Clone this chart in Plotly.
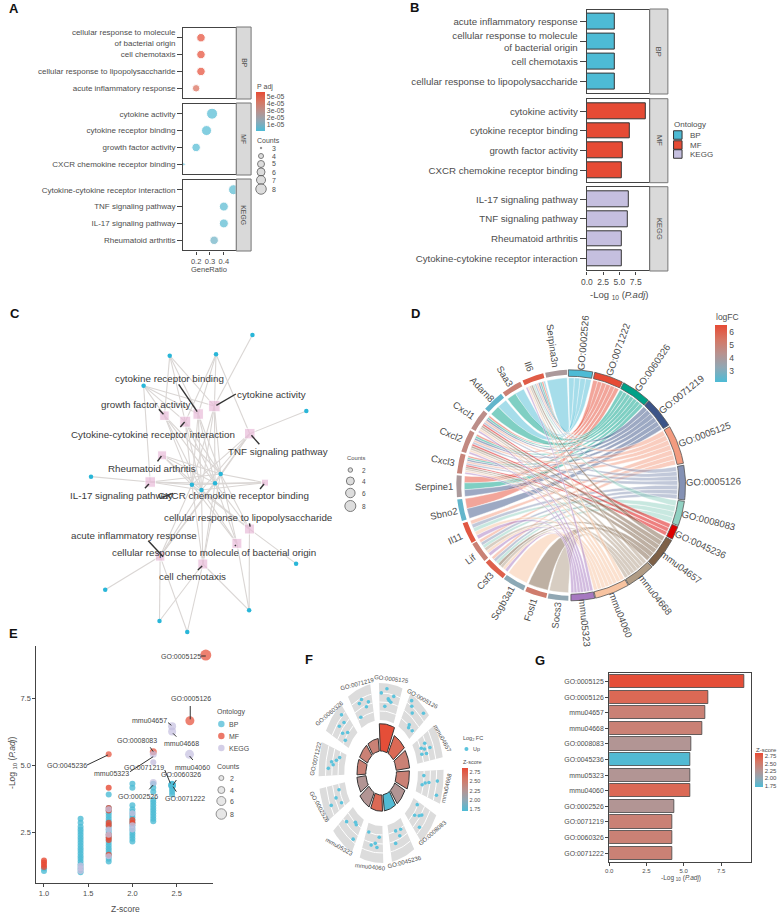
import numpy as np
import plotly.graph_objects as go
from plotly.colors import sample_colorscale

W, H = 782, 916
FONT = "Liberation Sans"
TXT = "#4d4d4d"
BLUE, RED, LILAC = "#4DBBD5", "#E64B35", "#C5BFDF"
GRAD = [[0, BLUE], [0.25, "#8FA8B5"], [0.5, "#B8928F"], [0.75, "#D67663"], [1, RED]]

# --- panel A / B
a_bp = ["acute inflammatory response", "cellular response to lipopolysaccharide", "cell chemotaxis",
        "cellular response to molecule<br>of bacterial origin"]
a_bp_ratio = [0.20, 0.235, 0.235, 0.235]
a_bp_count = [4, 5, 5, 5]
a_bp_padj = [4.7e-5, 5.7e-5, 5.7e-5, 5.7e-5]
a_mf = ["CXCR chemokine receptor binding", "growth factor activity", "cytokine receptor binding", "cytokine activity"]
a_mf_ratio = [0.11, 0.20, 0.275, 0.315]
a_mf_count = [3, 5, 7, 8]
a_mf_padj = [2e-6, 2e-6, 2e-6, 2e-6]
a_kegg = ["Rheumatoid arthritis", "IL-17 signaling pathway", "TNF signaling pathway",
          "Cytokine-cytokine receptor interaction"]
a_kegg_ratio = [0.33, 0.40, 0.40, 0.47]
a_kegg_count = [5, 6, 6, 7]
a_kegg_padj = [8e-6, 3e-6, 3e-6, 3e-6]

b_bp = ["cellular response to lipopolysaccharide", "cell chemotaxis",
        "cellular response to molecule<br>of bacterial origin", "acute inflammatory response"]
b_bp_val = [4.25, 4.25, 4.25, 4.3]
b_mf = ["CXCR chemokine receptor binding", "growth factor activity", "cytokine receptor binding", "cytokine activity"]
b_mf_val = [5.35, 5.45, 6.65, 9.1]
b_kegg = ["Cytokine-cytokine receptor interaction", "Rheumatoid arthritis", "TNF signaling pathway",
          "IL-17 signaling pathway"]
b_kegg_val = [5.35, 5.4, 6.25, 6.45]

# --- panel C, node layout in crop units
term_names = ["CA", "CRB", "CCI", "GFA", "TNF", "RA", "IL17", "CXCR", "LPS", "MOL", "ACU", "CHE"]
term_x = [630, 581, 542, 479, 737, 472, 436, 783, 736, 698, 466, 595]
term_y = [318, 342, 365, 347, 401, 466, 546, 548, 687, 730, 769, 792]
term_size = [11.5, 10.5, 11, 9.5, 10.5, 9, 10.5, 7, 10, 10, 9.5, 10]
gene_x = [745, 495, 635, 416, 908, 257, 649, 562, 591, 632, 877, 300, 735, 464, 548]
gene_y = [105, 167, 163, 257, 333, 530, 522, 554, 570, 550, 791, 869, 931, 963, 996]
gene_terms = [
    ["CA"], ["CA", "CRB", "CCI", "GFA"], ["CA", "CRB", "CCI", "TNF"], ["CA", "CRB", "CCI", "GFA", "IL17"],
    ["TNF"], ["IL17"],
    term_names, term_names, term_names, term_names,
    ["LPS"], ["ACU"], ["LPS", "MOL", "CHE"], ["ACU", "CHE"], ["ACU", "CHE"],
]
c_labels = ["cytokine receptor binding", "cytokine activity", "growth factor activity",
            "Cytokine-cytokine receptor interaction", "TNF signaling pathway", "Rheumatoid arthritis",
            "IL-17 signaling pathway", "CXCR chemokine receptor binding", "cellular response to lipopolysaccharide",
            "acute inflammatory response", "cellular response to molecule of bacterial origin", "cell chemotaxis"]
c_label_x = [495, 803, 421, 445, 822, 440, 350, 687, 733, 387, 629, 563]
c_label_y = [236, 283, 312, 402, 454, 504, 585, 587, 651, 706, 756, 830]
c_seg = [(522, 253, 578, 335), (695, 282, 636, 316), (462, 328, 476, 343), (540, 366, 527, 381),
         (742, 406, 766, 433), (470, 468, 458, 484), (432, 552, 420, 565), (780, 552, 768, 567),
         (736, 670, 738, 680), (430, 722, 475, 770), (695, 735, 692, 738), (593, 798, 580, 810),
         (505, 580, 470, 592)]

# --- panel D, sectors in degrees clockwise from the top
go_terms = ["GO:0002526", "GO:0071222", "GO:0060326", "GO:0071219", "GO:0005125", "GO:0005126", "GO:0008083",
            "GO:0045236", "mmu04657", "mmu04668", "mmu04060", "mmu05323"]
go_start = [-1.3, 12, 27.4, 43, 59.5, 80, 98, 111, 118.5, 135, 150, 168]
go_end = [11, 26.7, 42.5, 58.6, 79, 97.3, 110.4, 117.8, 134.4, 149.6, 167.6, 180]
go_color = ["#4DBBD5", "#E64B35", "#00A087", "#3C5488", "#F39B7F", "#8491B4", "#91D1C2", "#DC0000",
            "#7E6148", "#B09C85", "#F7C3A0", "#A678C0"]
d_genes = ["Socs3", "Fosl1", "Scgb3a1", "Csf3", "Lif", "Il11", "Sbno2", "Serpine1", "Cxcl3", "Cxcl2", "Cxcl1",
           "Adam8", "Saa3", "Il6", "Serpina3n"]
gene_start = [181.3, 192.5, 204.5, 216.5, 229, 240, 252, 264, 276, 287, 299.5, 311.5, 323.5, 335, 347]
gene_end = [191.7, 203.5, 215.8, 228, 239.4, 250.8, 262.9, 275, 286, 298.4, 310.4, 322.4, 333.7, 346, 358]
gene_logfc = [3.3, 5.2, 3.2, 6.0, 5.0, 6.2, 2.5, 4.0, 4.9, 4.7, 4.5, 2.5, 5.0, 6.1, 4.0]
chemo = ["GO:0071222", "GO:0060326", "GO:0071219", "GO:0005125", "GO:0005126", "GO:0045236",
         "mmu04657", "mmu04668", "mmu04060", "mmu05323"]
growth = ["GO:0005125", "GO:0005126", "GO:0008083", "mmu04060", "mmu05323"]
d_links = {
    "Socs3": ["mmu04668"], "Fosl1": ["mmu04657"], "Scgb3a1": ["mmu04060"],
    "Csf3": growth + ["mmu04657", "mmu04668"], "Lif": growth + ["mmu04668"], "Il11": growth,
    "Sbno2": ["GO:0071222", "GO:0071219"], "Serpine1": ["GO:0071222", "GO:0060326", "GO:0071219"],
    "Cxcl3": chemo, "Cxcl2": chemo, "Cxcl1": chemo,
    "Adam8": ["GO:0002526", "GO:0060326"], "Saa3": ["GO:0002526", "GO:0060326"],
    "Il6": ["GO:0002526", "GO:0071222", "GO:0060326", "GO:0071219", "GO:0005125", "GO:0005126", "GO:0008083",
            "mmu04657", "mmu04668", "mmu04060", "mmu05323"],
    "Serpina3n": ["GO:0002526"],
}

# --- panel E, bulk of the points by z-score column
e_bp_col = {
    1.0: [1.05, 1.15],
    1.414: [1.0, 1.1, 1.2, 1.3, 1.4, 1.5, 1.6, 1.7, 1.8, 1.9, 2.0, 2.1, 2.2, 2.3, 2.4, 2.5, 2.6, 2.7, 2.85, 3.0],
    1.732: [1.4, 1.5, 1.6, 1.7, 1.8, 1.9, 2.0, 2.1, 2.2, 2.3, 2.4, 2.5, 2.6, 2.7, 2.8, 2.9, 3.0, 3.1, 3.2, 3.3, 3.4, 3.9],
    2.0: [2.15, 2.25, 2.35, 2.45, 2.55, 2.65, 2.75, 2.85, 2.95, 3.05, 3.15, 3.25, 3.35, 3.5, 4.15, 4.3],
    2.236: [2.9, 3.0, 3.1, 3.2, 3.3, 3.4, 3.5, 3.6, 3.7, 4.0, 4.15, 4.3],
    2.449: [3.9, 4.0, 4.1, 4.2, 4.25, 4.3],
}
e_mf_col = {1.0: [1.2, 1.28, 1.36, 1.44], 1.732: [1.65, 2.2, 2.3, 2.4, 2.75, 2.85, 3.3, 3.4, 4.15], 2.0: [2.85, 2.95]}
e_kegg_col = {1.414: [1.05, 1.15, 1.25], 1.732: [1.6, 2.4, 2.6, 3.35], 2.0: [2.6, 2.75, 3.2], 2.236: [5.1]}
e_terms = ["GO:0005125", "GO:0005126", "mmu04657", "mmu04668", "mmu04060", "GO:0008083", "mmu05323", "GO:0045236",
           "GO:0071219", "GO:0060326", "GO:0071222", "GO:0002526"]
e_term_z = [2.83, 2.65, 2.449, 2.449, 2.646, 2.236, 2.236, 1.732, 2.449, 2.449, 2.449, 2.236]
e_term_y = [9.1, 6.65, 6.45, 6.25, 5.4, 5.5, 5.4, 5.4, 4.25, 4.25, 4.25, 4.35]
e_term_ont = ["MF", "MF", "KEGG", "KEGG", "KEGG", "MF", "KEGG", "MF", "BP", "BP", "BP", "KEGG"]
e_term_size = [11, 9, 8, 8, 9, 7, 7, 6, 7.5, 7.5, 7.5, 7]
e_label_x = [529, 558, 435, 530, 565, 395, 318, 183, 418, 530, 542, 398]
e_label_y = [110, 236, 300, 370, 443, 362, 460, 435, 442, 462, 535, 530]
e_seg = [(590, 108, 604, 108), (557, 258, 557, 298), (490, 308, 500, 316), (505, 340, 515, 350), (436, 382, 445, 395),
         (555, 408, 565, 420), (375, 455, 445, 410), (245, 435, 308, 405), (480, 450, 497, 490), (515, 480, 505, 495),
         (505, 500, 515, 515), (445, 495, 433, 508)]

# --- panel F / G
f_terms = ["GO:0005125", "GO:0005126", "mmu04657", "mmu04668", "GO:0008083", "GO:0045236", "mmu04060", "mmu05323",
           "GO:0002526", "GO:0071222", "GO:0060326", "GO:0071219"]
f_padj = [9.1, 6.65, 6.45, 6.25, 5.5, 5.4, 5.4, 5.4, 4.35, 4.25, 4.25, 4.25]
f_z = [2.83, 2.65, 2.45, 2.45, 2.24, 1.73, 2.65, 2.24, 2.24, 2.45, 2.45, 2.45]
f_dot_frac = [[0.1, 0.35, 0.45, 0.6, 0.7, 0.3, 0.5], [0.15, 0.25, 0.4, 0.55, 0.6, 0.85, 0.8], [0.3, 0.4, 0.5, 0.55, 0.65, 0.7],
              [0.2, 0.35, 0.45, 0.5, 0.6, 0.8], [0.15, 0.35, 0.45, 0.6, 0.75], [0.25, 0.4, 0.55, 0.7],
              [0.2, 0.3, 0.4, 0.6, 0.85], [0.15, 0.3, 0.4, 0.8], [0.2, 0.35, 0.5, 0.75], [0.25, 0.4, 0.5, 0.6, 0.75],
              [0.2, 0.35, 0.45, 0.55, 0.7, 0.8], [0.2, 0.35, 0.5, 0.65, 0.8]]
f_dot_logfc = [[5.8, 6.5, 5.0, 4.6, 5.6, 3.8, 4.8], [6.5, 5.8, 5.0, 3.2, 2.8, 3.0, 6.6], [4.2, 3.2, 3.8, 5.0, 3.0, 4.0],
               [3.0, 6.0, 4.2, 3.4, 2.8, 6.2], [2.9, 4.6, 4.2, 3.4, 5.4], [3.2, 4.0, 3.0, 4.8],
               [3.4, 5.0, 4.4, 4.8, 3.0], [5.4, 3.2, 3.0, 4.2], [3.4, 5.6, 4.2, 3.2], [5.2, 4.2, 4.6, 3.6, 3.0],
               [2.9, 4.0, 5.2, 3.2, 4.8, 6.0], [3.2, 5.2, 5.6, 4.2, 4.8]]

g_terms = ["GO:0071222", "GO:0060326", "GO:0071219", "GO:0002526", "mmu04060", "mmu05323", "GO:0045236", "GO:0008083",
           "mmu04668", "mmu04657", "GO:0005126", "GO:0005125"]
g_val = [4.25, 4.25, 4.25, 4.35, 5.4, 5.4, 5.4, 5.5, 6.25, 6.45, 6.65, 9.08]
g_z = [2.45, 2.45, 2.45, 2.24, 2.65, 2.24, 1.73, 2.24, 2.45, 2.45, 2.65, 2.83]

panel_tags = ["A", "B", "C", "D", "E", "F", "G"]
tag_x = [8, 412, 9, 413, 8, 305, 538]
tag_y = [8, 7, 313, 313, 633, 659, 660]


def dom_x(a, b):
    return [a / W, b / W]


def dom_y(top, bottom):
    return [1 - bottom / H, 1 - top / H]


def tick_font(size):
    return dict(family=FONT, size=size, color=TXT)


fig = go.Figure()
layout = {}
annotations = []
shapes = []


def set_axes(n, xdom, ydom, xr, yr, **kw):
    s = "" if n == 1 else str(n)
    x_opts = dict(domain=xdom, range=xr, anchor=f"y{s}", showgrid=False, zeroline=False, visible=False)
    y_opts = dict(domain=ydom, range=yr, anchor=f"x{s}", showgrid=False, zeroline=False, visible=False)
    x_opts.update(kw.get("x", {}))
    y_opts.update(kw.get("y", {}))
    layout[f"xaxis{s}"] = x_opts
    layout[f"yaxis{s}"] = y_opts
    return f"x{s}", f"y{s}"


def note(text, x, y, xref="paper", yref="paper", size=8, color=TXT, family=FONT, angle=0, xanchor="center"):
    if xref == "paper":
        x, y = x / W, 1 - y / H
    annotations.append(dict(text=text, x=x, y=y, xref=xref, yref=yref, showarrow=False, textangle=angle,
                            xanchor=xanchor, yanchor="middle", borderpad=0,
                            font=dict(family=family, size=size, color=color)))


def frame_opts(visible_x, tick_size, tickvals, ticktext, cats, y_size, y_tick):
    line = dict(showline=True, mirror=True, linecolor="#444444", linewidth=1.2, visible=True)
    x = dict(line, ticks="outside" if visible_x else "", ticklen=3, tickcolor="#444444", showticklabels=visible_x,
             tickvals=tickvals if visible_x else [], ticktext=ticktext if visible_x else [],
             tickfont=tick_font(tick_size))
    y = dict(line, type="category", categoryorder="array", categoryarray=cats, ticks="outside", ticklen=y_tick,
             tickcolor="#444444", tickfont=tick_font(y_size))
    return dict(x=x, y=y)


def strip(x0, x1, top, bottom, text, size):
    shapes.append(dict(type="rect", xref="paper", yref="paper", x0=x0 / W, x1=x1 / W, y0=1 - bottom / H, y1=1 - top / H,
                       fillcolor="#D9D9D9", line=dict(color="#777777", width=1)))
    note(text, (x0 + x1) / 2, (top + bottom) / 2, size=size, angle=90)


# panel A
count_px = {3: 3, 4: 7.5, 5: 8.5, 6: 9, 7: 10, 8: 11}
a_panels = [(27, 99, a_bp, a_bp_ratio, a_bp_count, a_bp_padj, "BP"),
            (103, 175, a_mf, a_mf_ratio, a_mf_count, a_mf_padj, "MF"),
            (179, 251, a_kegg, a_kegg_ratio, a_kegg_count, a_kegg_padj, "KEGG")]
for i, (top, bottom, cats, ratio, count, padj, lab) in enumerate(a_panels):
    xa, ya = set_axes(i + 1, dom_x(178.6, 231.4), dom_y(top + 0.6, bottom - 0.6), [0.107, 0.485], [-0.6, 3.6],
                      **frame_opts(i == 2, 7.5, [0.2, 0.3, 0.4], ["0.2", "0.3", "0.4"], cats, 8, 5))
    fig.add_trace(go.Scatter(x=ratio, y=cats, xaxis=xa, yaxis=ya, mode="markers",
                             marker=dict(color=padj, coloraxis="coloraxis", size=[count_px[c] for c in count])))
    strip(232, 247, top, bottom, lab, 6.8)
note("GeneRatio", 205, 269, size=7.5)

# panel B
b_panels = [(9, 94, b_bp, b_bp_val, BLUE, "BP"), (98.7, 182.7, b_mf, b_mf_val, RED, "MF"),
            (186.7, 271, b_kegg, b_kegg_val, LILAC, "KEGG")]
for i, (top, bottom, cats, val, col, lab) in enumerate(b_panels):
    xa, ya = set_axes(i + 4, dom_x(585.3, 648.1), dom_y(top + 0.6, bottom - 0.6), [0, 9.55], [-0.6, 3.6],
                      **frame_opts(i == 2, 8.5, [0, 2.5, 5, 7.5], ["0.0", "2.5", "5.0", "7.5"], cats, 9.7, 6))
    fig.add_trace(go.Bar(x=val, y=cats, xaxis=xa, yaxis=ya, orientation="h", width=0.8,
                         marker=dict(color=col, line=dict(color="#333333", width=1))))
    strip(648.7, 667, top, bottom, lab, 7.5)
note("-Log <sub>10</sub> (<i>P.adj</i>)", 618, 295, size=9.5)

# panel C
xc, yc = set_axes(7, dom_x(0, 400), dom_y(300, 640), [0, 1200], [1020, 0])
edge_x, edge_y = [], []
for gx, gy, terms in zip(gene_x, gene_y, gene_terms):
    for t in terms:
        k = term_names.index(t)
        edge_x += [gx, term_x[k], None]
        edge_y += [gy, term_y[k], None]
fig.add_trace(go.Scatter(x=edge_x, y=edge_y, xaxis=xc, yaxis=yc, mode="lines", line=dict(color="#DAD6D4", width=1.1)))
fig.add_trace(go.Scatter(x=term_x, y=term_y, xaxis=xc, yaxis=yc, mode="markers",
                         marker=dict(symbol="square", color="#E9BBD9", size=term_size)))
fig.add_trace(go.Scatter(x=gene_x, y=gene_y, xaxis=xc, yaxis=yc, mode="markers",
                         marker=dict(color="#29B6D8", size=4.5)))
seg_x, seg_y = [], []
for x0, y0, x1, y1 in c_seg:
    seg_x += [x0, x1, None]
    seg_y += [y0, y1, None]
fig.add_trace(go.Scatter(x=seg_x, y=seg_y, xaxis=xc, yaxis=yc, mode="lines", line=dict(color="#333333", width=1.4)))
for t, x, y in zip(c_labels, c_label_x, c_label_y):
    note(t, x, y, xref=xc, yref=yc, size=9.8, color="#3a3a3a")

# panel D
R_OUT, R_GO, R_GENE, R_RIB = 115.5, 109, 110.5, 107.5
D_HALF = 165
xd, yd = set_axes(8, dom_x(569.3 - D_HALF, 569.3 + D_HALF), dom_y(485.3 - D_HALF, 485.3 + D_HALF),
                  [-D_HALF, D_HALF], [-D_HALF, D_HALF])


def pol(r, deg):
    t = np.radians(deg)
    return r * np.sin(t), r * np.cos(t)


def ribbon_slots(centres, starts, ends, targets):
    """Split each sector evenly between its links, ordered so neighbouring ribbons do not cross."""
    out = {}
    for key, lst in targets.items():
        mid = centres[key]
        ordered = sorted(lst, key=lambda o: -((centres[o] - mid) % 360))
        edges = np.linspace(starts[key], ends[key], len(ordered) + 1)
        for j, o in enumerate(ordered):
            out[(key, o)] = (edges[j], edges[j + 1])
    return out


g_start = dict(zip(d_genes, gene_start))
g_end = dict(zip(d_genes, gene_end))
t_start = dict(zip(go_terms, go_start))
t_end = dict(zip(go_terms, go_end))
centres = {k: (g_start[k] + g_end[k]) / 2 for k in d_genes}
centres.update({k: (t_start[k] + t_end[k]) / 2 for k in go_terms})
go_links = {t: [g for g in d_genes if t in d_links[g]] for t in go_terms}
gene_slots = ribbon_slots(centres, g_start, g_end, d_links)
go_slots = ribbon_slots(centres, t_start, t_end, go_links)
u = np.linspace(0, 1, 30)
rgba = {t: "rgba(%d,%d,%d,0.5)" % tuple(int(c.lstrip("#")[i:i + 2], 16) for i in (0, 2, 4))
        for t, c in zip(go_terms, go_color)}
for gname in d_genes:
    for t in d_links[gname]:
        a1, a2 = gene_slots[(gname, t)]
        b1, b2 = go_slots[(t, gname)]
        arc_a = pol(R_RIB, np.linspace(a1, a2, 6))
        arc_b = pol(R_RIB, np.linspace(b1, b2, 6))
        # quadratic curves pulled through the centre
        cx1, cy1 = (1 - u) ** 2 * arc_a[0][-1] + u ** 2 * arc_b[0][0], (1 - u) ** 2 * arc_a[1][-1] + u ** 2 * arc_b[1][0]
        cx2, cy2 = (1 - u) ** 2 * arc_b[0][-1] + u ** 2 * arc_a[0][0], (1 - u) ** 2 * arc_b[1][-1] + u ** 2 * arc_a[1][0]
        fig.add_trace(go.Scatter(x=np.concatenate([arc_a[0], cx1, arc_b[0], cx2]).tolist(),
                                 y=np.concatenate([arc_a[1], cy1, arc_b[1], cy2]).tolist(),
                                 xaxis=xd, yaxis=yd, mode="lines", fill="toself", fillcolor=rgba[t],
                                 line=dict(color="rgba(255,255,255,0.7)", width=0.6)))


def sector(r0, r1, a0, a1):
    angs = np.linspace(a0, a1, 16)
    ox, oy = pol(r1, angs)
    ix, iy = pol(r0, angs[::-1])
    return np.concatenate([ox, ix, ox[:1]]).tolist(), np.concatenate([oy, iy, oy[:1]]).tolist()


for name, s, e, col in zip(go_terms, go_start, go_end, go_color):
    px_, py_ = sector(R_GO, R_OUT, s, e)
    fig.add_trace(go.Scatter(x=px_, y=py_, xaxis=xd, yaxis=yd, mode="lines", fill="toself", fillcolor=col,
                             line=dict(color="#555555", width=0.8)))
fc_lo, fc_hi = 2.15, 6.54
fc_cols = sample_colorscale(GRAD, [(v - fc_lo) / (fc_hi - fc_lo) for v in gene_logfc])
for name, s, e, col in zip(d_genes, gene_start, gene_end, fc_cols):
    px_, py_ = sector(R_GENE, R_OUT, s, e)
    fig.add_trace(go.Scatter(x=px_, y=py_, xaxis=xd, yaxis=yd, mode="lines", fill="toself", fillcolor=col,
                             line=dict(width=0)))
mids = [(s + e) / 2 for s, e in zip(gene_start, gene_end)]
mx, my = pol(R_OUT, np.array(mids))
fig.add_trace(go.Scatter(x=mx.tolist(), y=my.tolist(), xaxis=xd, yaxis=yd, mode="markers",
                         marker=dict(color=gene_logfc, coloraxis="coloraxis2", size=1, opacity=0)))
for name, s, e in list(zip(go_terms, go_start, go_end)) + list(zip(d_genes, gene_start, gene_end)):
    mid = ((s + e) / 2) % 360
    size = 9.6
    half = len(name) * size * 0.52 / 2
    lx, ly = pol(R_OUT + 3 + half, mid)
    ang = mid - 90 if mid < 180 else mid - 270
    note(name, float(lx), float(ly), xref=xd, yref=yd, size=size, angle=ang)

# panel E
e_ticks = dict(visible=True, showline=True, linecolor="#444444", linewidth=1.2, ticks="outside", ticklen=3,
               tickcolor="#444444", tickfont=tick_font(7.5))
xe, ye = set_axes(9, dom_x(30.7, 209), dom_y(646, 883), [0.915, 2.916], [0.6, 9.44],
                  x=dict(e_ticks, tickvals=[1, 1.5, 2, 2.5], ticktext=["1.0", "1.5", "2.0", "2.5"]),
                  y=dict(e_ticks, tickvals=[2.5, 5, 7.5], ticktext=["2.5", "5.0", "7.5"]))
ont_colors = {"BP": BLUE, "MF": RED, "KEGG": LILAC}
for col_data, ont in ((e_bp_col, "BP"), (e_mf_col, "MF"), (e_kegg_col, "KEGG")):
    zs = [z for z, vals in col_data.items() for _ in vals]
    ys = [v for vals in col_data.values() for v in vals]
    fig.add_trace(go.Scatter(x=zs, y=ys, xaxis=xe, yaxis=ye, mode="markers",
                             marker=dict(color=ont_colors[ont], size=6, opacity=0.8, line=dict(width=0))))
fig.add_trace(go.Scatter(x=e_term_z, y=e_term_y, xaxis=xe, yaxis=ye, mode="markers",
                         marker=dict(color=[ont_colors[o] for o in e_term_ont], size=e_term_size, opacity=0.7,
                                     line=dict(width=0))))

# page layer for hand-placed legends and the E annotations
xp, yp = set_axes(12, [0, 1], [0, 1], [0, W], [H, 0])
e_sx, e_sy = [], []
for x0, y0, x1, y1 in e_seg:
    e_sx += [x0 / 3, x1 / 3, None]
    e_sy += [620 + y0 / 3, 620 + y1 / 3, None]
fig.add_trace(go.Scatter(x=e_sx, y=e_sy, xaxis=xp, yaxis=yp, mode="lines", line=dict(color="#333333", width=1)))
for t, x, y in zip(e_terms, e_label_x, e_label_y):
    note(t, x / 3, 620 + y / 3, size=7, color="#444444")
note("Z-score", 120, 909, size=8.5)
note("-Log <sub>10</sub> (<i>P.adj</i>)", 6, 763, size=8.5, angle=-90)

# panel F
FX = 0.7
F_CX, F_CY = 378, 773
F_HALF = 112
xf, yf = set_axes(10, dom_x(F_CX - F_HALF * FX, F_CX + F_HALF * FX), dom_y(F_CY - F_HALF, F_CY + F_HALF),
                  [-F_HALF, F_HALF], [-F_HALF, F_HALF])
F_HOLE, F_IN, F_OUT, F_STEP, F_SPAN, F_BAR = 22, 53, 90, 30, 22, 26
z_lo, z_hi = 1.71, 2.85
z_cols = sample_colorscale(GRAD, [(v - z_lo) / (z_hi - z_lo) for v in f_z])
for i, (name, val, col, fr, lf) in enumerate(zip(f_terms, f_padj, z_cols, f_dot_frac, f_dot_logfc)):
    a0 = -2 + F_STEP * i
    a1 = a0 + F_SPAN
    bx, by = sector(F_IN, F_OUT, a0, a1)
    fig.add_trace(go.Scatter(x=bx, y=by, xaxis=xf, yaxis=yf, mode="lines", fill="toself", fillcolor="#DCDCDC",
                             line=dict(width=0)))
    for r in (62, 71, 80):
        rx, ry = pol(r, np.linspace(a0, a1, 12))
        fig.add_trace(go.Scatter(x=rx.tolist(), y=ry.tolist(), xaxis=xf, yaxis=yf, mode="lines",
                                 line=dict(color="white", width=1)))
    dx, dy = pol(55 + (np.array(lf) - 2) * 6.6, a0 + np.array(fr) * F_SPAN)
    fig.add_trace(go.Scatter(x=dx.tolist(), y=dy.tolist(), xaxis=xf, yaxis=yf, mode="markers",
                             marker=dict(color="#5CC3DC", size=3.6)))
    qx, qy = sector(F_HOLE, F_HOLE + val * 3, a0 - 1, a0 - 1 + F_BAR)
    fig.add_trace(go.Scatter(x=qx, y=qy, xaxis=xf, yaxis=yf, mode="lines", fill="toself", fillcolor=col,
                             line=dict(color="#333333", width=1)))
    mid = (a0 + a1) / 2
    tx, ty = pol(95, mid)
    vis = np.degrees(np.arctan2(FX * np.sin(np.radians(mid)), np.cos(np.radians(mid)))) % 360
    if vis < 90:
        ang = vis
    elif vis < 270:
        ang = vis - 180
    else:
        ang = vis - 360
    note(name, float(tx), float(ty), xref=xf, yref=yf, size=6, angle=float(ang))
mx, my = pol(40, -2 + F_STEP * np.arange(12) + F_SPAN / 2)
fig.add_trace(go.Scatter(x=mx.tolist(), y=my.tolist(), xaxis=xf, yaxis=yf, mode="markers",
                         marker=dict(color=f_z, coloraxis="coloraxis3", size=1, opacity=0)))
note("Log<sub>2</sub> FC", 460, 738, size=5.5, xanchor="left")
note("Up", 470, 749, size=5.5, xanchor="left")
note("Z-score", 460, 762, size=5.5, xanchor="left")

# panel G
xg, yg = set_axes(11, dom_x(607.9, 751.1), dom_y(672.9, 861.7), [0, 9.53], [-0.55, 11.55],
                  **frame_opts(True, 6, [0, 2.5, 5, 7.5], ["0.0", "2.5", "5.0", "7.5"], g_terms, 6.9, 3))
fig.add_trace(go.Bar(x=g_val, y=g_terms, xaxis=xg, yaxis=yg, orientation="h", width=0.85,
                     marker=dict(color=g_z, coloraxis="coloraxis4", line=dict(color="#444444", width=0.8))))
note("-Log <sub>10</sub> (<i>P.adj</i>)", 680, 878, size=6.5)
note("Z-score", 755, 750, size=6, xanchor="left")

# legends: A
note("P adj", 252, 87, size=7, xanchor="left")
note("Counts", 252, 140, size=7, xanchor="left")
a_leg_count = [3, 4, 5, 6, 7, 8]
a_leg_y = [148, 156, 164, 172, 180, 189]
fig.add_trace(go.Scatter(x=[257] * 6, y=a_leg_y, xaxis=xp, yaxis=yp, mode="markers",
                         marker=dict(color="#CFCFCF", size=[1.5, 5, 7, 8, 9, 10.5],
                                     line=dict(color="#444444", width=1))))
for c, y in zip(a_leg_count, a_leg_y):
    note(str(c), 267, y, size=7, xanchor="left")

# legends: B
note("Ontology", 672, 125, size=8, xanchor="left")
b_leg_y = [135, 145, 154]
fig.add_trace(go.Scatter(x=[677] * 3, y=b_leg_y, xaxis=xp, yaxis=yp, mode="markers",
                         marker=dict(symbol="square", color=[BLUE, RED, LILAC], size=8.5,
                                     line=dict(color="#333333", width=1))))
for t, y in zip(["BP", "MF", "KEGG"], b_leg_y):
    note(t, 688, y, size=8, xanchor="left")

# legends: C
note("Counts", 353, 458, size=5.8)
c_leg_y = [470, 481, 493, 506]
fig.add_trace(go.Scatter(x=[347] * 4, y=c_leg_y, xaxis=xp, yaxis=yp, mode="markers",
                         marker=dict(color="#CFCFCF", size=[4.5, 8, 9.5, 11], line=dict(color="#444444", width=1))))
for c, y in zip([2, 4, 6, 8], c_leg_y):
    note(str(c), 358, y, size=6.5, xanchor="left")

# legends: D title
note("logFC", 714, 317, size=8.5, xanchor="left")

# legends: E
note("Ontology", 212, 712, size=7, xanchor="left")
e_leg_y = [724, 736, 748]
fig.add_trace(go.Scatter(x=[217] * 3, y=e_leg_y, xaxis=xp, yaxis=yp, mode="markers",
                         marker=dict(color=[BLUE, RED, LILAC], size=6.5, opacity=0.75)))
for t, y in zip(["BP", "MF", "KEGG"], e_leg_y):
    note(t, 224, y, size=7, xanchor="left")
note("Counts", 212, 766, size=7, xanchor="left")
e_cnt_y = [778, 790, 801, 814]
fig.add_trace(go.Scatter(x=[217] * 4, y=e_cnt_y, xaxis=xp, yaxis=yp, mode="markers",
                         marker=dict(color="#DDDDDD", size=[5, 7, 9, 10.5], line=dict(color="#666666", width=1))))
for c, y in zip([2, 4, 6, 8], e_cnt_y):
    note(str(c), 225, y, size=7, xanchor="left")

# legends: F key
fig.add_trace(go.Scatter(x=[464], y=[749], xaxis=xp, yaxis=yp, mode="markers",
                         marker=dict(color="#5CC3DC", size=4)))

for tag, x, y in zip(panel_tags, tag_x, tag_y):
    note(f"<b>{tag}</b>", x, y, size=13, color="#111111")


def colorbar(x, top, bottom, thick, vals, labels, size):
    return dict(x=x / W, xanchor="left", y=1 - (top + bottom) / 2 / H, yanchor="middle", lenmode="pixels",
                len=bottom - top, thicknessmode="pixels", thickness=thick, xpad=0, ypad=0, outlinewidth=0,
                tickvals=vals, ticktext=labels, ticks="", ticklabelposition="outside",
                tickfont=dict(family=FONT, size=size, color=TXT))


layout.update(
    width=W, height=H, margin=dict(l=0, r=0, t=0, b=0), showlegend=False,
    paper_bgcolor="white", plot_bgcolor="rgba(0,0,0,0)", font=dict(family=FONT, color=TXT),
    annotations=annotations, shapes=shapes, bargap=0,
    coloraxis=dict(colorscale=GRAD, cmin=1.4e-6, cmax=5.7e-5,
                   colorbar=colorbar(252, 92, 131, 9, [1e-5, 2e-5, 3e-5, 4e-5, 5e-5],
                                     ["1e-05", "2e-05", "3e-05", "4e-05", "5e-05"], 6.8)),
    coloraxis2=dict(colorscale=GRAD, cmin=fc_lo, cmax=fc_hi,
                    colorbar=colorbar(714, 325, 382, 12, [3, 4, 5, 6], ["3", "4", "5", "6"], 8.5)),
    coloraxis3=dict(colorscale=GRAD, cmin=z_lo, cmax=z_hi,
                    colorbar=colorbar(460, 768, 811, 6, [1.75, 2, 2.25, 2.5, 2.75],
                                      ["1.75", "2.00", "2.25", "2.50", "2.75"], 5.5)),
    coloraxis4=dict(colorscale=GRAD, cmin=z_lo, cmax=z_hi,
                    colorbar=colorbar(755, 753, 787, 8, [1.75, 2, 2.25, 2.5, 2.75],
                                      ["1.75", "2.00", "2.25", "2.50", "2.75"], 6)),
)
fig.update_layout(**layout)
fig.update_traces(hoverinfo="skip")

# plotly's page keeps the browser's 8px body margin otherwise
fig.write_html("out.html", config={"displayModeBar": False}, post_script="document.body.style.margin = '0';")
